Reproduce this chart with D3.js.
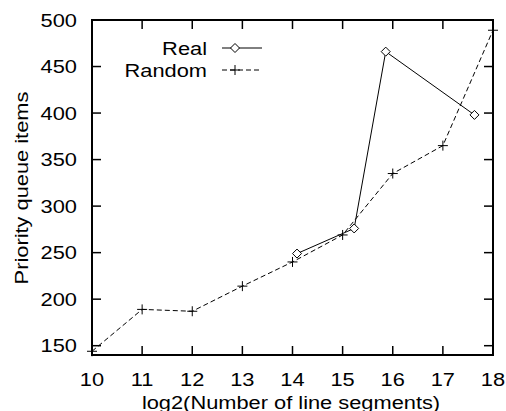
<!DOCTYPE html>
<html>
<head>
<meta charset="utf-8">
<script src="https://cdn.jsdelivr.net/npm/d3@7"></script>
<style>
  html, body { margin: 0; padding: 0; background: #fff; }
  svg { display: block; }
  text { font-family: "Liberation Sans", Arial, Helvetica, sans-serif; fill: #000; }
</style>
</head>
<body>
<svg id="chart" width="506" height="411"></svg>
<script>
// Priority queue size versus log2 of the segment count
const realX = [14.09, 15.23, 15.86, 17.63];
const realY = [249, 276, 466, 398];
const randomX = [10, 11, 12, 13, 14, 15, 16, 17, 18];
const randomY = [144, 189, 187, 214, 240, 269, 335, 365, 489];
const xTicks = [10, 11, 12, 13, 14, 15, 16, 17, 18];
const yTicks = [150, 200, 250, 300, 350, 400, 450, 500];
const seriesNames = ["Real", "Random"];

const svg = d3.select("#chart");
const plotL = 92, plotR = 493, plotT = 20, plotB = 355;
const x = d3.scaleLinear().domain([10, 18]).range([plotL, plotR]);
const y = d3.scaleLinear().domain([140, 500]).range([plotB, plotT]);
const fontSize = 18.5;
const stretch = 1.18;   // wide-set glyphs
const tickLen = 9;

// Text placed at (tx, ty), optionally rotated, with horizontally widened glyphs
function label(tx, ty, str, anchor, dy, rot) {
  return svg.append("text")
    .attr("transform", `translate(${tx},${ty})${rot ? ` rotate(${rot})` : ""} scale(${stretch},1)`)
    .attr("text-anchor", anchor).attr("dy", dy)
    .attr("font-size", fontSize).text(str);
}

// Inward ticks on all four sides
const g = svg.append("g");
xTicks.forEach(t => {
  g.append("line").attr("x1", x(t)).attr("x2", x(t)).attr("y1", plotB).attr("y2", plotB - tickLen)
    .attr("stroke", "#000").attr("stroke-width", 1.5);
  g.append("line").attr("x1", x(t)).attr("x2", x(t)).attr("y1", plotT).attr("y2", plotT + tickLen)
    .attr("stroke", "#000").attr("stroke-width", 1.5);
  label(x(t), 386, t, "middle", 0);
});
yTicks.forEach(t => {
  g.append("line").attr("x1", plotL).attr("x2", plotL + tickLen).attr("y1", y(t)).attr("y2", y(t))
    .attr("stroke", "#000").attr("stroke-width", 1.5);
  g.append("line").attr("x1", plotR).attr("x2", plotR - tickLen).attr("y1", y(t)).attr("y2", y(t))
    .attr("stroke", "#000").attr("stroke-width", 1.5);
  label(77, y(t), t, "end", "0.36em");
});

// Frame
svg.append("rect").attr("x", plotL).attr("y", plotT).attr("width", plotR - plotL).attr("height", plotB - plotT)
  .attr("fill", "none").attr("stroke", "#000").attr("stroke-width", 2);

// Axis titles
label(291, 408.5, "log2(Number of line segments)", "middle", 0);
label(27.5, 188, "Priority queue items", "middle", 0, -90);

const line = d3.line().x(d => x(d[0])).y(d => y(d[1]));
const realPts = realX.map((v, i) => [v, realY[i]]);
const randPts = randomX.map((v, i) => [v, randomY[i]]);

function diamond(sel, cx, cy) {
  const r = 4.5;
  sel.append("path").attr("d", `M${cx},${cy - r}L${cx + r},${cy}L${cx},${cy + r}L${cx - r},${cy}Z`)
    .attr("fill", "#fff").attr("stroke", "#000").attr("stroke-width", 1);
}
function plus(sel, cx, cy) {
  const r = 5;
  sel.append("path").attr("d", `M${cx - r},${cy}H${cx + r}M${cx},${cy - r}V${cy + r}`)
    .attr("stroke", "#000").attr("stroke-width", 1);
}

// Random series (dashed)
svg.append("path").datum(randPts).attr("d", line).attr("fill", "none")
  .attr("stroke", "#000").attr("stroke-width", 1).attr("stroke-dasharray", "5,3");
randPts.forEach(p => plus(svg, x(p[0]), y(p[1])));

// Real series (solid)
svg.append("path").datum(realPts).attr("d", line).attr("fill", "none")
  .attr("stroke", "#000").attr("stroke-width", 1);
realPts.forEach(p => diamond(svg, x(p[0]), y(p[1])));

// Key
const keyY = [48, 70];
label(207, keyY[0], seriesNames[0], "end", "0.36em");
svg.append("line").attr("x1", 222).attr("x2", 262).attr("y1", keyY[0]).attr("y2", keyY[0])
  .attr("stroke", "#000").attr("stroke-width", 1);
diamond(svg, 235, keyY[0]);
label(207, keyY[1], seriesNames[1], "end", "0.36em");
svg.append("line").attr("x1", 222).attr("x2", 262).attr("y1", keyY[1]).attr("y2", keyY[1])
  .attr("stroke", "#000").attr("stroke-width", 1).attr("stroke-dasharray", "5,3");
plus(svg, 235, keyY[1]);
</script>
</body>
</html>
